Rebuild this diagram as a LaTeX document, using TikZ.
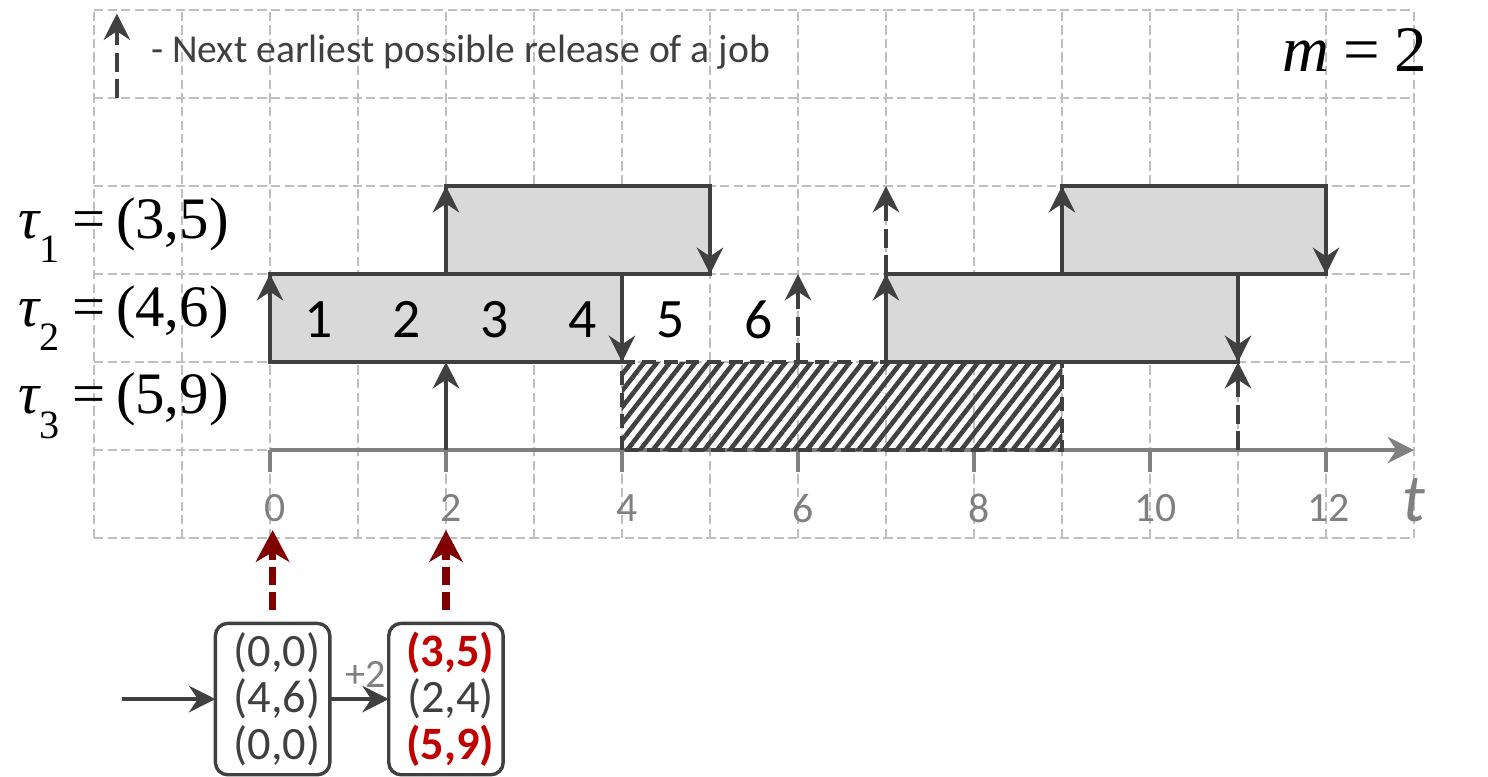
\documentclass[tikz,border=0pt]{standalone}
\usepackage{fontspec}
\setmainfont{Carlito}
\newfontfamily\timesfont{Liberation Serif}
\usepackage{tikz}
\usetikzlibrary{arrows.meta,patterns.meta}

\newcommand{\tasklab}[2]{\timesfont{\itshape τ}\raisebox{-0.42em}{\fontsize{13}{13}\selectfont #1}\hspace{0.22em}=\hspace{0.18em}(#2)}

\begin{document}
\begin{tikzpicture}[every node/.style={inner sep=0pt, outer sep=0pt},
  gridline/.style={draw={rgb,255:red,191;green,191;blue,191}, line width=0.65pt, dash pattern=on 3pt off 1.4pt},
  job/.style={draw={rgb,255:red,64;green,64;blue,64}, fill={rgb,255:red,217;green,217;blue,217}, line width=1.3pt},
  rel/.style={draw={rgb,255:red,64;green,64;blue,64}, line width=1.3pt, -{Stealth[length=3mm,width=3mm,inset=1mm]}},
  nextrel/.style={rel, line width=1.1pt, dash pattern=on 6pt off 2.5pt},
  idle/.style={draw={rgb,255:red,64;green,64;blue,64}, line width=1.3pt, dash pattern=on 4.5pt off 2.5pt, pattern={Lines[angle=52,distance=1.15mm,line width=0.52mm]}, pattern color={rgb,255:red,64;green,64;blue,64}},
  axisline/.style={draw={rgb,255:red,128;green,128;blue,128}, line width=1.1pt},
  ticklab/.style={text={rgb,255:red,128;green,128;blue,128}, font=\fontsize{13.5}{13.5}\selectfont},
  slot/.style={text=black, font=\fontsize{18}{18}\selectfont},
  state/.style={draw={rgb,255:red,64;green,64;blue,64}, line width=1.1pt, rounded corners=0.14cm, minimum width=1.3cm, minimum height=1.72cm, align=center, text={rgb,255:red,64;green,64;blue,64}, font=\fontsize{15}{15}\selectfont},
  flow/.style={draw={rgb,255:red,64;green,64;blue,64}, line width=1.3pt, -{Stealth[length=3mm,width=3mm,inset=1mm]}},
  hint/.style={draw={rgb,255:red,128;green,0;blue,0}, line width=2.3pt, dash pattern=on 5.8pt off 2.3pt, -{Stealth[length=3.6mm,width=3.8mm,inset=1.1mm]}}]
\useasboundingbox (-3.068,-3.705) rectangle (13.841,5.114);
\draw[gridline] (-2,-1) grid (13,5);
\draw[nextrel] (-1.74,4.0) -- (-1.74,4.96);
\node[anchor=west, text={rgb,255:red,64;green,64;blue,64}, font=\fontsize{12.8}{12.8}\selectfont] (legend) at (-1.35,4.52) {- Next earliest possible release of a job};
\node[font=\fontsize{21}{21}\selectfont] (mlab) at (12.33,4.55) {\timesfont{\itshape m}\hspace{0.22em}=\hspace{0.22em}2};
\node[anchor=west, font=\fontsize{19}{19}\selectfont] (tau1) at (-2.86,2.5) {\tasklab{1}{3,5}};
\node[anchor=west, font=\fontsize{19}{19}\selectfont] (tau2) at (-2.86,1.5) {\tasklab{2}{4,6}};
\node[anchor=west, font=\fontsize{19}{19}\selectfont] (tau3) at (-2.86,0.5) {\tasklab{3}{5,9}};
\draw[axisline, -{Stealth[length=3mm,width=3mm,inset=1mm]}] (0,0) -- (13,0);
\draw[axisline] (0,0) -- (0,-0.25);
\draw[axisline] (2,0) -- (2,-0.25);
\draw[axisline] (4,0) -- (4,-0.25);
\draw[axisline] (6,0) -- (6,-0.25);
\draw[axisline] (8,0) -- (8,-0.25);
\draw[axisline] (10,0) -- (10,-0.25);
\draw[axisline] (12,0) -- (12,-0.25);
\node[ticklab] (l0) at (0.06,-0.66) {0};
\node[ticklab] (l2) at (2.06,-0.66) {2};
\node[ticklab] (l4) at (4.06,-0.66) {4};
\node[ticklab] (l6) at (6.06,-0.66) {6};
\node[ticklab] (l8) at (8.06,-0.66) {8};
\node[ticklab] (l10) at (10.06,-0.66) {10};
\node[ticklab] (l12) at (12.03,-0.66) {12};
\node[text={rgb,255:red,128;green,128;blue,128}, font=\fontsize{22}{22}\selectfont\itshape] (tlab) at (13.0,-0.57) {t};
\draw[idle] (4,0) rectangle (9,1);
\draw[job] (2,2) rectangle (5,3);
\draw[job] (9,2) rectangle (12,3);
\draw[job] (0,1) rectangle (4,2);
\draw[job] (7,1) rectangle (11,2);
\draw[rel] (2,2) -- (2,3);
\draw[rel] (5,3) -- (5,2);
\draw[rel] (9,2) -- (9,3);
\draw[rel] (12,3) -- (12,2);
\draw[rel] (0,1) -- (0,2);
\draw[rel] (4,2) -- (4,1);
\draw[rel] (7,1) -- (7,2);
\draw[rel] (11,2) -- (11,1);
\draw[rel] (2,0) -- (2,1);
\draw[nextrel] (7,2) -- (7,3);
\draw[nextrel] (6,1) -- (6,2);
\draw[nextrel] (11,0) -- (11,1);
\node[slot] (c1) at (0.55,1.48) {1};
\node[slot] (c2) at (1.55,1.48) {2};
\node[slot] (c3) at (2.55,1.48) {3};
\node[slot] (c4) at (3.55,1.48) {4};
\node[slot] (c5) at (4.55,1.48) {5};
\node[slot] (c6) at (5.55,1.48) {6};
\node[state] (s0) at (0.03,-2.83) {\hspace*{0.1cm}(0,0)\\\hspace*{0.1cm}(4,6)\\\hspace*{0.1cm}(0,0)};
\node[state] (s1) at (2.0,-2.83) {\hspace*{0.1cm}{\bfseries\color[RGB]{192,0,0}(3,5)}\\\hspace*{0.1cm}(2,4)\\\hspace*{0.1cm}{\bfseries\color[RGB]{192,0,0}(5,9)}};
\coordinate (in) at (-1.68,-2.83);
\coordinate (r0) at (0.03,-0.91);
\coordinate (r1) at (2.0,-0.91);
\draw[flow] (in) -- (s0.west);
\draw[flow] (s0.east) -- node[above=0.13cm, xshift=0.07cm, text={rgb,255:red,128;green,128;blue,128}, font=\fontsize{13}{13}\selectfont] (plus) {+2} (s1.west);
\draw[hint] ([yshift=0.15cm]s0.north) -- (r0);
\draw[hint] ([yshift=0.15cm]s1.north) -- (r1);
\end{tikzpicture}
\end{document}
